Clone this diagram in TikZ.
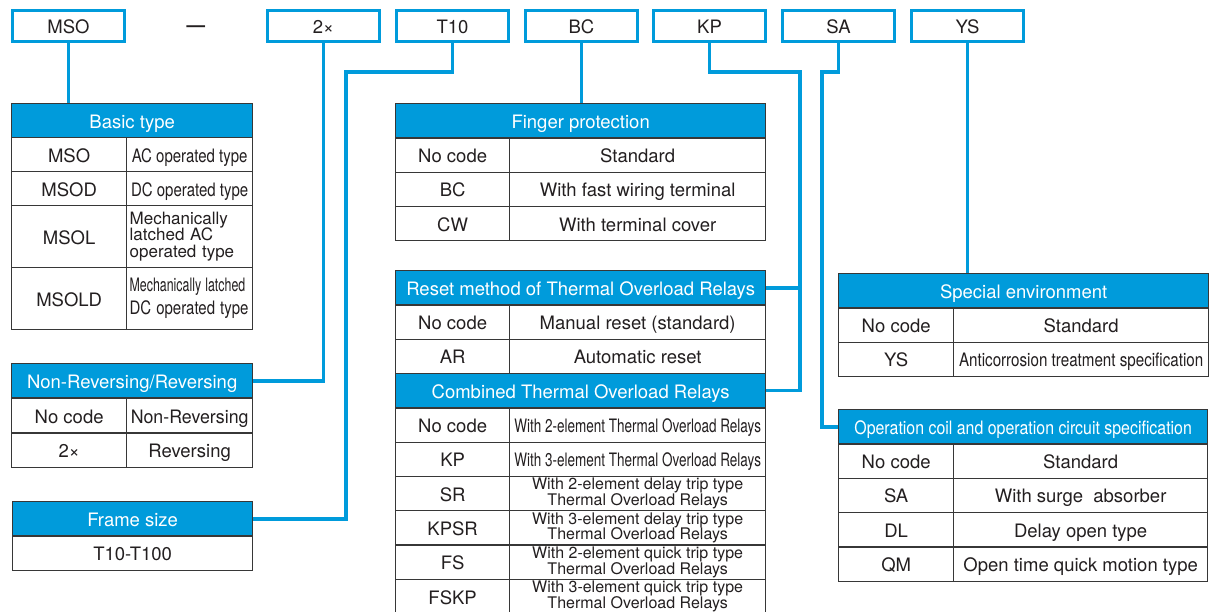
\documentclass[tikz,border=0pt]{standalone}
\usepackage{fontspec}
\setmainfont{TeX Gyre Heros}
\usepackage{graphicx}
\definecolor{hblue}{RGB}{0,155,219}
\definecolor{tline}{RGB}{55,55,55}
\definecolor{txt}{RGB}{35,31,32}
\newcommand{\cond}[2]{\scalebox{#1}[1]{#2}}
\tikzset{
 one/.style={text height=15pt, text depth=0pt},
 code/.style={draw=hblue, line width=3pt, minimum width=112pt, minimum height=31pt, inner sep=0pt, one},
 hdr/.style={draw=tline, line width=1.3pt, fill=hblue, text=white, anchor=north west, minimum height=34.3pt, inner sep=0pt, one},
 cellbase/.style={draw=tline, line width=1.3pt, fill=white, anchor=north west, minimum height=34.3pt, inner sep=0pt, align=center},
 cell/.style={cellbase, one},
 link/.style={draw=hblue, line width=3.5pt},
 two/.style={font=\fontsize{16}{15.5}\selectfont}
}
\begin{document}
\begin{tikzpicture}[x=1pt, y=-1pt, font=\fontsize{18.5}{21}\selectfont, text=txt]
 \useasboundingbox (0,0) rectangle (1212,612);
 \node[code] (mso) at (68.5,26) {MSO};
 \node (dash) at (196,29) {\textbf{—}};
 \node[code] (rev) at (323.5,26) {2×};
 \node[code] (t10) at (452.5,26) {T10};
 \node[code] (bc) at (581.5,26) {BC};
 \node[code] (kp) at (709.5,26) {KP};
 \node[code] (sa) at (838.5,26) {SA};
 \node[code] (ys) at (967.5,26) {YS};

 \node[hdr, minimum width=241pt] (bt) at (11,103) {Basic type};
 \node[cell, minimum width=115pt] (bt-0-a) at (11,137) {MSO};
 \node[cell, minimum width=126pt] (bt-0-b) at (126,137) {\cond{.81}{AC operated type}};
 \node[cell, minimum width=115pt] (bt-1-a) at (11,171) {MSOD};
 \node[cell, minimum width=126pt] (bt-1-b) at (126,171) {\cond{.81}{DC operated type}};
 \node[cell, minimum width=115pt, minimum height=62pt] (bt-2-a) at (11,205) {MSOL};
 \node[cellbase, text width=120pt, inner xsep=3pt, minimum height=62pt, align=left, font=\fontsize{17}{16.5}\selectfont] (bt-2-b) at (126,205) {Mechanically\\latched AC\\operated type};
 \node[cell, minimum width=115pt, minimum height=62pt] (bt-3-a) at (11,267) {MSOLD};
 \node[cellbase, text width=120pt, inner xsep=3pt, minimum height=62pt, align=left, font=\fontsize{18.5}{23}\selectfont] (bt-3-b) at (126,267) {\cond{.67}{Mechanically latched}\\\cond{.81}{DC operated type}};

 \node[hdr, minimum width=241pt] (nr) at (11,363) {Non-Reversing/Reversing};
 \node[cell, minimum width=115pt] (nr-0-a) at (11,398) {No code};
 \node[cell, minimum width=126pt] (nr-0-b) at (126,398) {\cond{.96}{Non-Reversing}};
 \node[cell, minimum width=115pt] (nr-1-a) at (11,432.3) {2×};
 \node[cell, minimum width=126pt] (nr-1-b) at (126,432.3) {Reversing};

 \node[hdr, minimum width=240pt] (fs) at (12,501) {Frame size};
 \node[cell, minimum width=240pt] (fs-0) at (12,535.3) {T10-T100};

 \node[hdr, minimum width=370pt] (fp) at (395,103) {Finger protection};
 \foreach \c/\d [count=\i from 0] in {No code/Standard, BC/With fast wiring terminal, CW/With terminal cover} {
  \node[cell, minimum width=114pt] (fp-\i-a) at (395,{137.3+34.3*\i}) {\c};
  \node[cell, minimum width=256pt] (fp-\i-b) at (509,{137.3+34.3*\i}) {\d};
 }

 \node[hdr, minimum width=370pt] (rm) at (395,270) {Reset method of Thermal Overload Relays};
 \foreach \c/\d [count=\i from 0] in {No code/Manual reset (standard), AR/Automatic reset} {
  \node[cell, minimum width=114pt] (rm-\i-a) at (395,{304.3+34.3*\i}) {\c};
  \node[cell, minimum width=256pt] (rm-\i-b) at (509,{304.3+34.3*\i}) {\d};
 }
 \node[hdr, minimum width=370pt] (ct) at (395,372.9) {Combined Thermal Overload Relays};
 \foreach \c/\d [count=\i from 0] in {No code/With 2-element Thermal Overload Relays, KP/With 3-element Thermal Overload Relays} {
  \node[cell, minimum width=114pt] (ct-\i-a) at (395,{407.2+34.3*\i}) {\c};
  \node[cell, minimum width=256pt] (ct-\i-b) at (509,{407.2+34.3*\i}) {\cond{.73}{\d}};
 }
 \foreach \c/\d [count=\i from 2] in {SR/With 2-element delay trip type, KPSR/With 3-element delay trip type, FS/With 2-element quick trip type, FSKP/With 3-element quick trip type} {
  \node[cell, minimum width=114pt] (ct-\i-a) at (395,{407.2+34.3*\i}) {\c};
  \node[cellbase, two, minimum width=256pt] (ct-\i-b) at (509,{407.2+34.3*\i}) {\d\\Thermal Overload Relays};
 }

 \node[hdr, minimum width=370pt] (se) at (838,273) {Special environment};
 \foreach \c/\d [count=\i from 0] in {No code/Standard, YS/{\cond{.82}{Anticorrosion treatment specification}}} {
  \node[cell, minimum width=115pt] (se-\i-a) at (838,{307.3+34.3*\i}) {\c};
  \node[cell, minimum width=255pt] (se-\i-b) at (953,{307.3+34.3*\i}) {\d};
 }

 \node[hdr, minimum width=369pt] (oc) at (838,409) {\cond{.86}{Operation coil and operation circuit specification}};
 \foreach \c/\d [count=\i from 0] in {No code/Standard, SA/With surge~ absorber, DL/Delay open type, QM/Open time quick motion type} {
  \node[cell, minimum width=115pt] (oc-\i-a) at (838,{443.3+34.3*\i}) {\c};
  \node[cell, minimum width=254pt] (oc-\i-b) at (953,{443.3+34.3*\i}) {\d};
 }

 \coordinate (t10k) at (346,72);
 \coordinate (kpk) at (800,72);
 \coordinate (sak) at (822,72);
 \draw[link] (mso.south) -- (mso.south |- bt.north);
 \draw[link] (rev.south) |- (nr.east);
 \draw[link] (t10.south) |- (t10k) |- (fs.east);
 \draw[link] (bc.south) -- (bc.south |- fp.north);
 \draw[link] (kp.south) |- (kpk) |- (ct.east);
 \draw[link] (rm.east) -- (rm.east -| kpk);
 \draw[link] (sa.south) |- (sak) |- (oc.west);
 \draw[link] (ys.south) -- (ys.south |- se.north);
\end{tikzpicture}
\end{document}
